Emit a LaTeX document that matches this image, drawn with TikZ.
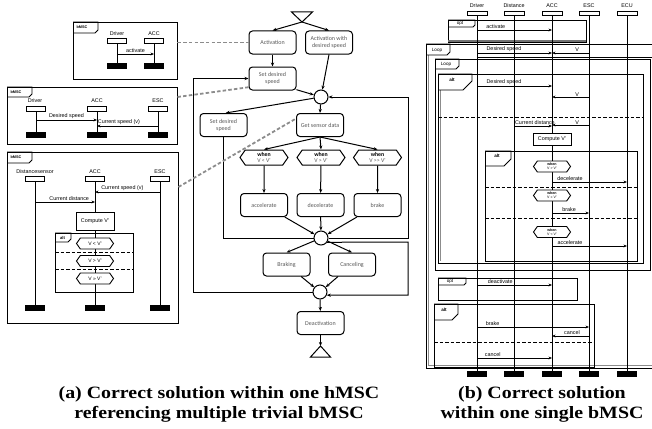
\documentclass[tikz,border=0pt]{standalone}
\usepackage{fontspec}
\setmainfont{Liberation Sans}
\newfontfamily\calfont{Carlito}
\newfontfamily\capfont[FakeStretch=1.15]{Liberation Serif}
\usetikzlibrary{arrows.meta,shapes.symbols,calc}
% tab of a frame: x, y, width, height, cut, label x, label y, label
\newcommand\mtab[8]{%
  \draw[line width=0.9pt] (#1,#2) -- ++(#3,0) -- ++(0,#4-#5) -- ++(-#5,#5) -- (#1,#2+#4);
  \node[font=\fontsize{4.6}{5}\selectfont, inner sep=0pt] (t-#1-#2) at (#6,#7) {#8};}
\begin{document}
\begin{tikzpicture}[x=1pt,y=-1pt,
  lbl/.style={font=\fontsize{5.4}{6}\selectfont, inner sep=0.6pt},
  hd/.style={draw, fill=white, minimum width=19pt, minimum height=5pt, inner sep=0pt, line width=0.9pt},
  ft/.style={draw, fill=black, minimum width=19pt, minimum height=5pt, inner sep=0pt},
  life/.style={line width=0.9pt},
  msg/.style={line width=0.8pt, -{Stealth[length=3.5pt,width=2.8pt]}},
  frm/.style={draw, line width=0.9pt, inner sep=0pt},
  dsep/.style={line width=0.9pt, dash pattern=on 3.5pt off 2pt},
  hb/.style={draw, rounded corners=3.5pt, fill=white, line width=1pt, font=\calfont\fontsize{6}{7}\selectfont, text=black!65, align=center, minimum width=47pt, minimum height=23pt, inner sep=1pt},
  hx/.style={shape=signal, signal to=east and west, signal pointer angle=110, draw, fill=white, line width=0.9pt, minimum width=37pt, minimum height=11pt, inner sep=0.3pt, align=center, font=\fontsize{5}{5.5}\selectfont},
  hxb/.style={hx, minimum width=48pt, minimum height=15pt, line width=1pt, font=\calfont\fontsize{5.8}{6.2}\selectfont, text=black!65},
  rx/.style={hx, font=\fontsize{3.6}{3.9}\selectfont},
  cc/.style={circle, draw, fill=white, minimum size=14pt, inner sep=0pt, line width=1pt},
  hf/.style={line width=1pt, -{Stealth[length=4pt,width=3.2pt]}},
  refl/.style={black!45, line width=1.8pt, dash pattern=on 3.5pt off 2.2pt},
  capt/.style={font=\capfont\bfseries\fontsize{17.3}{20}\selectfont, anchor=base, inner sep=0pt}
]
\useasboundingbox (0,0) rectangle (652,428);

% ================= left: box 1
\node[frm, minimum width=104pt, minimum height=57pt] (b1) at (125,50.5) {};
\mtab{73}{22}{25}{11}{3}{82}{27.5}{\fontsize{3.8}{4}\selectfont\bfseries bMSC}
\node[lbl] (b1-dl) at (117,34) {Driver};
\node[hd] (b1-dh) at (117,40.5) {};
\node[ft] (b1-df) at (117,65.5) {};
\node[lbl] (b1-al) at (154,34) {ACC};
\node[hd] (b1-ah) at (154,40.5) {};
\node[ft] (b1-af) at (154,65.5) {};
\draw[life] (b1-dh) -- (b1-df);
\draw[life] (b1-ah) -- (b1-af);
\draw[msg] (b1-dh |- 0,54) -- (b1-ah |- 0,54) node[lbl, above, pos=0.5] {activate};

% ================= left: box 2
\node[frm, minimum width=170pt, minimum height=57pt] (b2) at (92,115.5) {};
\mtab{7}{87}{25}{10}{3}{16}{92}{\fontsize{3.8}{4}\selectfont\bfseries bMSC}
\node[lbl] (b2-dl) at (35,100.5) {Driver};
\node[hd] (b2-dh) at (36,108.5) {};
\node[ft] (b2-df) at (36,134.5) {};
\node[lbl] (b2-al) at (97,100.5) {ACC};
\node[hd] (b2-ah) at (97,108.5) {};
\node[ft] (b2-af) at (97,134.5) {};
\node[lbl] (b2-el) at (158,100.5) {ESC};
\node[hd] (b2-eh) at (158,108.5) {};
\node[ft] (b2-ef) at (158,134.5) {};
\draw[life] (b2-dh) -- (b2-df);
\draw[life] (b2-ah) -- (b2-af);
\draw[life] (b2-eh) -- (b2-ef);
\draw[msg] (b2-dh |- 0,120) -- (b2-ah |- 0,120) node[lbl, above, pos=0.5] {Desired speed};
\draw[msg] (b2-eh |- 0,126) -- (b2-ah |- 0,126) node[lbl, above, pos=0.64] {Current speed (v)};

% ================= left: box 3
\node[frm, minimum width=171pt, minimum height=171pt] (b3) at (92.5,237.5) {};
\mtab{7}{152}{25}{11}{3}{16}{157.5}{\fontsize{3.8}{4}\selectfont\bfseries bMSC}
\node[lbl] (b3-sl) at (35,172) {Distancesensor};
\node[hd] (b3-sh) at (35,179) {};
\node[ft] (b3-sf) at (35,308) {};
\node[lbl] (b3-al) at (95,172) {ACC};
\node[hd] (b3-ah) at (95,179) {};
\node[ft] (b3-af) at (95,308) {};
\node[lbl] (b3-el) at (160,172) {ESC};
\node[hd] (b3-eh) at (160,179) {};
\node[ft] (b3-ef) at (160,308) {};
\draw[line width=0.9pt] (55,233) rectangle (133,292);
\mtab{55}{233}{16}{9}{3}{62.5}{237.5}{\fontsize{4.2}{4.5}\selectfont\bfseries alt}
\draw[dsep] (55,252) -- (133,252);
\draw[dsep] (55,269) -- (133,269);
\draw[life] (b3-sh) -- (b3-sf);
\draw[life] (b3-ah) -- (b3-af);
\draw[life] (b3-eh) -- (b3-ef);
\draw[msg] (b3-eh |- 0,192) -- (b3-ah |- 0,192) node[lbl, above, pos=0.58] {Current speed (v)};
\draw[msg] (b3-sh |- 0,202) -- (b3-ah |- 0,202) node[lbl, above, pos=0.57] {Current distance};
\node[draw, fill=white, line width=0.9pt, minimum width=38pt, minimum height=18pt, lbl] (b3-cv) at (95,221) {Compute V'};
\node[hx] (b3-x1) at (95,243.5) {V < V'};
\node[hx] (b3-x2) at (95,261) {V > V'};
\node[hx] (b3-x3) at (95,278.5) {V >> V'};

% ================= hMSC
\coordinate (st) at (302,22);
\draw[line width=1pt] (st) -- (291.5,12) -- (312.5,12) -- cycle;
\node[hb] (act) at (272.5,42.5) {Activation};
\node[hb] (actds) at (329,42.5) {Activation with\\desired speed};
\node[hb] (sds1) at (272.5,78.5) {Set desired\\speed};
\node[cc] (c1) at (321,97) {};
\node[hb] (sds2) at (223.5,125) {Set desired\\speed};
\node[hb] (gsd) at (320,125) {Get sensor data};
\node[hxb] (w1) at (264,157.5) {\textbf{\color{black}when}\\V < V'};
\node[hxb] (w2) at (321,157.5) {\textbf{\color{black}when}\\V > V'};
\node[hxb] (w3) at (377.5,157.5) {\textbf{\color{black}when}\\V >> V'};
\node[hb] (acc) at (264,205) {accelerate};
\node[hb] (dec) at (320.5,205) {decelerate};
\node[hb] (brk) at (377.5,205) {brake};
\node[cc] (c2) at (321,238) {};
\node[hb] (brkg) at (286.5,264.5) {Braking};
\node[hb] (canc) at (352,264.5) {Canceling};
\node[cc] (c3) at (320,292) {};
\node[hb] (deact) at (320.5,323) {Deactivation};
\coordinate (en) at (320.5,346);
\draw[line width=1pt] (en) -- (310.5,357) -- (330.5,357) -- cycle;

\draw[hf] (st) -- (act.north);
\draw[hf] (st) -- (actds.north);
\draw[hf] (act) -- (sds1);
\draw[hf] (sds1.-25) -- (c1);
\draw[hf] (actds.south) -- (c1);
\draw[hf] (c1) -- (sds2.80);
\draw[hf] (c1) -- (gsd.north);
\draw[hf] (gsd.south) -- (w1.north);
\draw[hf] (gsd.south) -- (w2.north);
\draw[hf] (gsd.south) -- (w3.north);
\draw[hf] (w1) -- (acc);
\draw[hf] (w2) -- (dec);
\draw[hf] (w3) -- (brk);
\draw[hf] (acc) -- (c2);
\draw[hf] (dec) -- (c2);
\draw[hf] (brk) -- (c2);
\draw[hf] (c2) -- (brkg.north);
\draw[hf] (c2) -- (canc.north);
\draw[hf] (brkg) -- (c3);
\draw[hf] (canc) -- (c3);
\draw[hf] (c3) -- (deact);
\draw[hf] (deact) -- (en);

\coordinate (ra) at (408,238);
\coordinate (rb) at (408,242);
\coordinate (la) at (193,292);
\draw[line width=1pt] (sds2.south) |- (c2.west);
\draw[hf] (c2.east) -- (ra) |- (c1.east);
\draw[hf] (c2.-35) -- (rb) |- (c3.-25);
\draw[hf] (c3.west) -- (la) |- (sds1.west);

% references
\draw[refl] (b1.east |- act.west) -- (act.west);
\draw[refl] (b2.east |- 0,97) -- (sds1.200);
\draw[refl] (b3.east |- 0,187) -- (gsd.165);

% ================= right bMSC: frames
\draw[line width=0.9pt] (655,44) -- (426,44) -- (426,368) -- (655,368);
\draw[black!45, line width=0.8pt] (428.5,55) -- (428.5,365.5) -- (655,365.5);
\mtab{426}{44}{24}{11}{3}{437}{50}{Loop}
\draw[line width=0.9pt] (448,20) rectangle (586,42);
\draw[black!55, line width=1.5pt] (448,40.8) -- (586,40.8);
\mtab{448}{20}{27}{7}{2}{460}{23.5}{opt}
\draw[line width=0.9pt] (435,59) rectangle (650,270);
\draw[line width=0.8pt] (477,57) -- (655,57);
\mtab{435}{59}{24}{10}{3}{446}{64}{Loop}
\draw[line width=0.9pt] (438,74) rectangle (643,263);
\draw[black!45, line width=0.8pt] (440.5,90) -- (440.5,261);
\mtab{438}{74}{34}{16}{9}{452}{80}{\bfseries alt}
\draw[dsep] (438,117) -- (643,117);
\draw[line width=0.9pt] (485,151) rectangle (637,261);
\mtab{485}{151}{26}{15}{7}{497}{156}{\bfseries alt}
\draw[dsep] (485,187) -- (637,187);
\draw[dsep] (485,218) -- (637,218);
\draw[line width=0.9pt] (438,278) rectangle (577,300);
\mtab{438}{278}{28}{7}{2}{450}{281.5}{opt}
\draw[line width=0.9pt] (434,304) rectangle (594,367);
\mtab{434}{304}{24}{16}{6}{444}{310}{\bfseries alt}
\draw[dsep] (434,342) -- (594,342);

% lifelines
\foreach \n/\x/\t in {rd/477/Driver, rs/514/Distance, ra/552/ACC, re/589/ESC, ru/627/ECU} {
  \node[lbl] (\n-l) at (\x,6) {\t};
  \node[hd, minimum width=20pt, minimum height=4pt] (\n-h) at (\x,13.5) {};
  \node[ft] (\n-f) at (\x,373.5) {};
  \draw[life] (\n-h) -- (\n-f);
}

% messages
\draw[msg] (rd-h |- 0,30) -- (ra-h |- 0,30) node[lbl, above, pos=0.25] {activate};
\draw[msg] (rd-h |- 0,53) -- (ra-h |- 0,53) node[lbl, above, pos=0.36] {Desired speed};
\draw[msg] (re-h |- 0,53) -- (ra-h |- 0,53) node[lbl, above, pos=0.32] {V};
\draw[msg] (rd-h |- 0,86) -- (ra-h |- 0,86) node[lbl, above, pos=0.36] {Desired speed};
\draw[msg] (re-h |- 0,97) -- (ra-h |- 0,97) node[lbl, above, pos=0.32] {V};
\draw[msg] (rs-h |- 0,126) -- (ra-h |- 0,126) node[lbl, above, pos=0.55] {Current distance};
\draw[msg] (re-h |- 0,125) -- (ra-h |- 0,125) node[lbl, above, pos=0.32] {V};
\node[draw, fill=white, line width=0.9pt, minimum width=38pt, minimum height=12pt, lbl] (r-cv) at (552,139) {Compute V'};
\draw[msg] (ra-h |- 0,182) -- (ru-h |- 0,182) node[lbl, above, pos=0.24] {decelerate};
\draw[msg] (ra-h |- 0,213) -- (re-h |- 0,213) node[lbl, above, pos=0.46] {brake};
\draw[msg] (ra-h |- 0,246) -- (ru-h |- 0,246) node[lbl, above, pos=0.24] {accelerate};
\node[rx] (r-x1) at (552,166.5) {\textbf{when}\\V > V'};
\node[rx] (r-x2) at (552,195.5) {\textbf{when}\\V >> V'};
\node[rx] (r-x3) at (552,232) {\textbf{when}\\V < V'};
\draw[msg] (rd-h |- 0,285) -- (ra-h |- 0,285) node[lbl, above, pos=0.31] {deactivate};
\draw[msg] (rd-h |- 0,327) -- (re-h |- 0,327) node[lbl, above, pos=0.14] {brake};
\draw[msg] (re-h |- 0,336) -- (ra-h |- 0,336) node[lbl, above, pos=0.46] {cancel};
\draw[msg] (rd-h |- 0,358) -- (ra-h |- 0,358) node[lbl, above, pos=0.21] {cancel};

% ================= captions
\node[capt] (capa1) at (219,398) {(a) Correct solution within one hMSC};
\node[capt] (capa2) at (219,418) {referencing multiple trivial bMSC};
\node[capt] (capb1) at (542,398) {(b) Correct solution};
\node[capt] (capb2) at (542,418) {within one single bMSC};
\end{tikzpicture}
\end{document}
